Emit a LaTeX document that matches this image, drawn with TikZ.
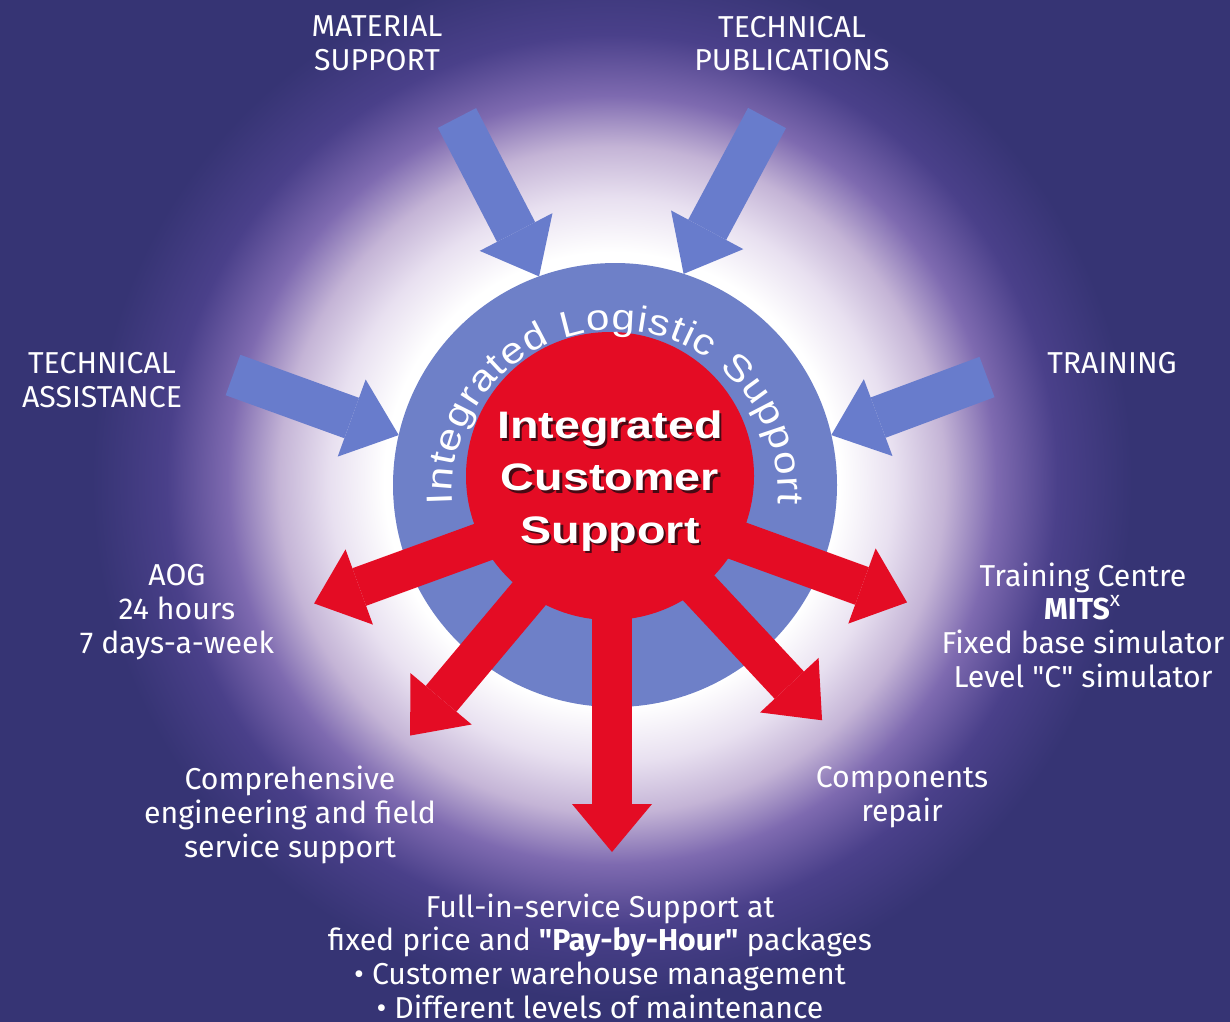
\documentclass[tikz,border=0pt]{standalone}
\usepackage{fontspec}
\setmainfont{Fira Sans}
\newfontfamily\icsfont{Liberation Sans}[FakeStretch=1.22]
\newfontfamily\ilsfont{Liberation Sans}[FakeStretch=1.15]
\usepackage{tikz}
\usetikzlibrary{arrows.meta, decorations.text, calc}
\usepackage{xcolor}
\definecolor{bgnavy}{RGB}{54,52,116}
\definecolor{glowA}{RGB}{232,224,240}
\definecolor{glowB}{RGB}{196,180,214}
\definecolor{glowC}{RGB}{126,106,176}
\definecolor{glowD}{RGB}{74,64,138}
\definecolor{ringblue}{RGB}{110,128,200}
\definecolor{arrowblue}{RGB}{104,124,204}
\definecolor{icsred}{RGB}{228,12,36}
\definecolor{shadered}{RGB}{70,10,20}

\pgfdeclareradialshading{glowshade}{\pgfpoint{0bp}{0bp}}{color(0bp)=(white); color(6.7bp)=(white); color(8.3bp)=(glowA); color(9.8bp)=(glowB); color(11.3bp)=(glowC); color(13.1bp)=(glowD); color(15.3bp)=(bgnavy); color(50bp)=(bgnavy)}

\tikzset{
    lbl/.style={text=white, align=center, inner sep=0pt, font=\fontsize{8.6}{9.6}\selectfont},
    icstitle/.style={text=white, align=center, inner sep=0pt, font=\icsfont\bfseries\fontsize{10.9}{14.9}\selectfont},
    bluearrow/.style={draw=arrowblue, line width=0.43cm, -{Triangle[length=0.50cm, width=0.82cm, line width=0pt]}},
    redarrow/.style={draw=icsred, line width=0.40cm, -{Triangle[length=0.48cm, width=0.80cm, line width=0pt]}}
}

\begin{document}
\begin{tikzpicture}
    \useasboundingbox (0,0) rectangle (12.3,-10.21);
    % background and glow
    \fill[bgnavy] (0,0) rectangle (12.3,-10.21);
    \begin{scope}
        \clip (0,0) rectangle (12.3,-10.21);
        \fill[shading=glowshade] (6.12,-4.8) circle (8.5);
    \end{scope}

    % blue ring with inward arrows
    \node[circle, fill=ringblue, minimum size=4.44cm, inner sep=0pt, outer sep=0pt] (ring) at (6.15,-4.85) {};
    \coordinate (tailmat) at (4.57,-1.18);
    \coordinate (tailpub) at (7.67,-1.18);
    \coordinate (tailass) at (2.33,-3.75);
    \coordinate (tailtrn) at (9.87,-3.77);
    \draw[bluearrow] (tailmat) -- (ring.110);
    \draw[bluearrow] (tailpub) -- (ring.72);
    \draw[bluearrow] (tailass) -- (ring.167);
    \draw[bluearrow] (tailtrn) -- (ring.13);

    % red outward arrows
    \coordinate (hub) at (6.12,-4.95);
    \foreach \ang/\len/\nm in {200/3.17/aog, 230/3.14/eng, 270/3.57/full, 313/3.08/comp, 340/3.14/trn}
        \path (hub) ++(\ang:\len) coordinate (tip\nm);
    \foreach \nm in {aog, eng, full, comp, trn}
        \draw[redarrow] (hub) -- (tip\nm);

    % centre
    \node[circle, fill=icsred, minimum size=2.88cm, inner sep=0pt] (core) at (6.10,-4.76) {};
    \coordinate (ilsc) at (6.15,-4.93);
    \path[decorate, decoration={text along path, text align=fit to path, text color=white,
        text={|\ilsfont\fontsize{10.4}{12}\selectfont|Integrated Logistic Support}}]
        (ilsc) ++(184:1.63) arc[start angle=184, end angle=-4, radius=1.63];
    \node[icstitle, text=shadered] (titleshade) at (6.125,-4.835) {Integrated\\Customer\\Support};
    \node[icstitle] (title) at (6.10,-4.81) {Integrated\\Customer\\Support};

    % labels
    \node[lbl] (matsup) at (3.77,-0.435) {MATERIAL\\SUPPORT};
    \node[lbl] (techpub) at (7.92,-0.435) {TECHNICAL\\PUBLICATIONS};
    \node[lbl] (techass) at (1.02,-3.80) {TECHNICAL\\ASSISTANCE};
    \node[lbl] (training) at (11.12,-3.63) {TRAINING};
    \node[lbl] (aog) at (1.77,-6.12) {AOG\\24 hours\\7 days-a-week};
    \node[lbl] (centre) at (10.83,-6.25) {Training Centre\\\textbf{MITS}\textsuperscript{x}\\Fixed base simulator\\Level \textquotedbl C\textquotedbl\ simulator};
    \node[lbl] (engsup) at (2.90,-8.15) {Comprehensive\\engineering and field\\service support};
    \node[lbl] (comprep) at (9.02,-7.97) {Components\\repair};
    \node[lbl] (fullsvc) at (6.00,-9.56) {Full-in-service Support at\\fixed price and \textbf{\textquotedbl Pay-by-Hour\textquotedbl} packages\\• Customer warehouse management\\• Different levels of maintenance};
\end{tikzpicture}
\end{document}
